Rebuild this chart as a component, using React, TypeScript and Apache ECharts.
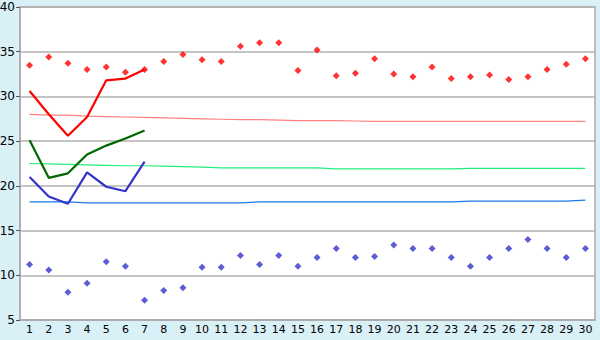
import React, { useEffect, useRef } from "react";
import * as echarts from "echarts";

const days = ["1","2","3","4","5","6","7","8","9","10","11","12","13","14","15","16","17","18","19","20","21","22","23","24","25","26","27","28","29","30"];
const yTicks = [5, 10, 15, 20, 25, 30, 35, 40];

const maxPoints = [33.5, 34.4, 33.7, 33.0, 33.3, 32.7, 33.0, 33.9, 34.7, 34.1, 33.9, 35.6, 36.0, 36.0, 32.9, 35.2, 32.3, 32.6, 34.2, 32.5, 32.2, 33.3, 32.0, 32.2, 32.4, 31.9, 32.2, 33.0, 33.6, 34.2];
const minPoints = [11.2, 10.6, 8.1, 9.1, 11.5, 11.0, 7.2, 8.3, 8.6, 10.9, 10.9, 12.2, 11.2, 12.2, 11.0, 12.0, 13.0, 12.0, 12.1, 13.4, 13.0, 13.0, 12.0, 11.0, 12.0, 13.0, 14.0, 13.0, 12.0, 13.0];

const redLine = [30.6, 28.0, 25.6, 27.7, 31.8, 32.0, 33.0];
const greenLine = [25.1, 20.9, 21.4, 23.5, 24.5, 25.3, 26.2];
const blueLine = [21.0, 18.8, 18.0, 21.5, 19.9, 19.4, 22.7];

const normalHigh = [28.0, 27.9, 27.9, 27.8, 27.75, 27.7, 27.65, 27.6, 27.55, 27.5, 27.45, 27.4, 27.4, 27.35, 27.3, 27.3, 27.3, 27.25, 27.2, 27.2, 27.2, 27.2, 27.2, 27.2, 27.2, 27.2, 27.2, 27.2, 27.2, 27.2];
const normalMean = [22.5, 22.45, 22.4, 22.35, 22.3, 22.25, 22.25, 22.2, 22.15, 22.1, 22.0, 22.0, 22.0, 22.0, 22.0, 22.0, 21.9, 21.9, 21.9, 21.9, 21.9, 21.9, 21.9, 21.95, 21.95, 21.95, 21.95, 21.95, 21.95, 21.95];
const normalLow = [18.2, 18.2, 18.2, 18.1, 18.1, 18.1, 18.1, 18.1, 18.1, 18.1, 18.1, 18.1, 18.2, 18.2, 18.2, 18.2, 18.2, 18.2, 18.2, 18.2, 18.2, 18.2, 18.2, 18.3, 18.3, 18.3, 18.3, 18.3, 18.3, 18.4];

export default function App() {
  const ref = useRef<HTMLDivElement>(null);
  useEffect(() => {
    const chart = echarts.init(ref.current!, null, { renderer: "svg" });
    const thin = (data: number[], color: string) => ({
      type: "line", data, symbol: "none", silent: true,
      lineStyle: { color, width: 1.2 },
    });
    const bold = (data: number[], color: string) => ({
      type: "line", data, symbol: "none", silent: true,
      lineStyle: { color, width: 2.2 },
    });
    chart.setOption({
      animation: false,
      backgroundColor: "#d9f0f7",
      grid: {
        left: 20, right: 5, top: 7, bottom: 20,
        containLabel: false,
        outerBoundsMode: "none",
        show: true, backgroundColor: "#ffffff", borderColor: "#aaaaaa", borderWidth: 1.5,
      },
      xAxis: {
        type: "category",
        data: days,
        boundaryGap: true,
        axisLine: { lineStyle: { color: "#aaaaaa", width: 1.5 } },
        axisTick: { alignWithLabel: true, length: 5, lineStyle: { color: "#000000" } },
        axisLabel: { color: "#000000", fontFamily: "DejaVu Sans", fontSize: 11, margin: 4, interval: 0 },
        splitLine: { show: false },
      },
      yAxis: {
        type: "value",
        min: yTicks[0],
        max: yTicks[yTicks.length - 1],
        interval: 5,
        axisLine: { show: true, lineStyle: { color: "#aaaaaa", width: 1.5 } },
        axisTick: { show: true, length: 4, lineStyle: { color: "#555555" } },
        axisLabel: { color: "#000000", fontFamily: "DejaVu Sans", fontSize: 12, lineHeight: 12, margin: 5 },
        splitLine: { lineStyle: { color: "#b0b0b0", width: 1.5 } },
      },
      series: [
        thin(normalHigh, "#ff8080"),
        thin(normalMean, "#22ee80"),
        thin(normalLow, "#1a78e8"),
        bold(redLine, "#ff0000"),
        bold(greenLine, "#006600"),
        bold(blueLine, "#3333cc"),
        {
          type: "scatter", data: maxPoints, symbol: "diamond", symbolSize: 7,
          itemStyle: { color: "#ff0000" },
        },
        {
          type: "scatter", data: minPoints, symbol: "diamond", symbolSize: 7,
          itemStyle: { color: "#3333cc" },
        },
      ],
    });
    return () => chart.dispose();
  }, []);
  return <div ref={ref} style={{ width: 600, height: 340, position: "absolute", left: 0, top: 0 }} />;
}
